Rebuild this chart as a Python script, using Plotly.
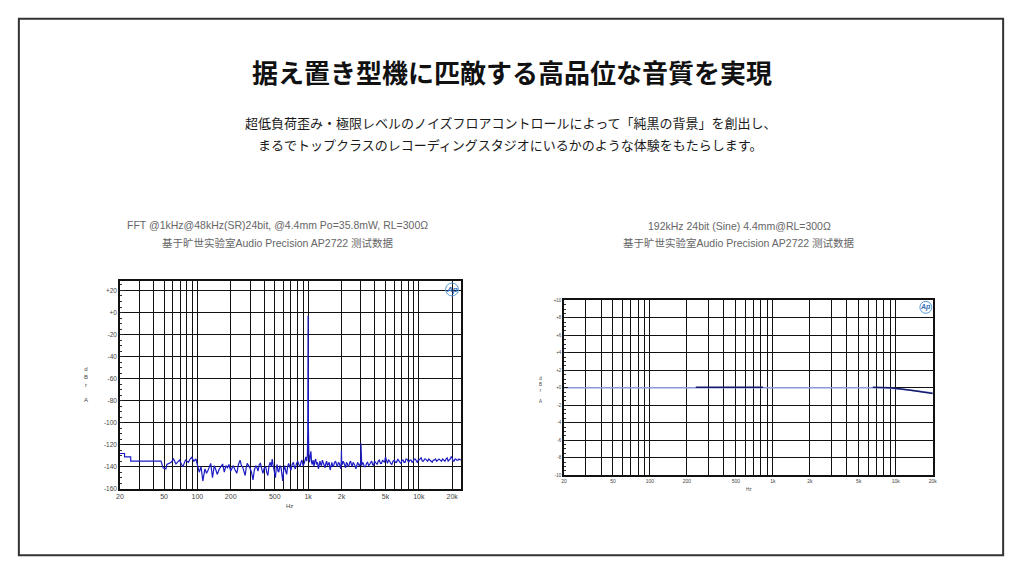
import math
import plotly.graph_objects as go

# ---------------- data ----------------
# Chart 1: FFT spectrum (Hz, dBrA)
fft_freq = [20, 22, 22, 25, 25, 47, 49, 52, 53, 55, 58, 61, 64, 66, 69, 72, 74, 78, 81, 83, 86, 89, 93, 97,
            101, 104, 108, 112, 117, 121, 124, 128, 132, 137, 142, 147, 151, 157, 163, 169, 175, 181, 187, 193,
            200, 205, 211, 219, 227, 235, 243, 250, 256, 263, 270, 276, 282, 290, 298, 308, 318, 327, 337, 345,
            353, 362, 371, 381, 391, 402, 414, 423, 433, 444, 455, 465, 474, 482, 490, 498, 507, 516, 525, 534,
            543, 556, 570, 580, 590, 602, 614, 627, 640, 653, 667, 683, 700, 718, 736, 751, 767, 786, 805, 825,
            845, 862, 880, 900, 922, 938, 955, 970, 985, 993, 997, 1000, 1003, 1007, 1015, 1030, 1045, 1060,
            1075, 1090, 1110, 1130, 1150, 1170, 1190, 1215, 1240, 1260, 1280, 1300, 1320, 1345, 1370, 1395,
            1420, 1445, 1470, 1495, 1520, 1550, 1580, 1610, 1640, 1670, 1700, 1735, 1770, 1805, 1840, 1875,
            1910, 1940, 1970, 1990, 2000, 2010, 2040, 2070, 2100, 2140, 2180, 2220, 2260, 2300, 2340, 2380,
            2420, 2460, 2500, 2550, 2600, 2650, 2700, 2750, 2800, 2850, 2900, 2960, 2990, 3000, 3010, 3050,
            3100, 3150, 3220, 3300, 3370, 3450, 3520, 3600, 3680, 3750, 3820, 3900, 3980, 4050, 4120, 4200,
            4300, 4400, 4500, 4600, 4700, 4800, 4900, 5000, 5100, 5200, 5320, 5450, 5570, 5700, 5850, 6000,
            6150, 6300, 6450, 6600, 6750, 6900, 7050, 7200, 7350, 7500, 7650, 7800, 7950, 8100, 8300, 8500,
            8700, 8900, 9100, 9300, 9500, 9700, 9850, 10000, 10250, 10500, 10750, 11000, 11250, 11500, 11750,
            12000, 12300, 12600, 12900, 13200, 13500, 13800, 14150, 14500, 14850, 15200, 15600, 16000, 16400,
            16800, 17200, 17600, 18000, 18400, 18800, 19200, 19600, 20000, 20400, 20800, 21200, 21500, 22000,
            22500, 23000, 23500, 24000]
fft_level = [-128, -128, -131, -131, -135, -135, -141, -142, -138, -137, -136, -133, -137.5, -136, -134, -138,
             -140, -134, -135, -136, -133, -131.5, -135, -133,
             -140, -145, -140, -153, -142, -146, -144, -140, -137, -150, -139, -143, -147, -142.5, -140, -137.5,
             -145, -139, -141, -138,
             -144, -142, -139, -143, -146, -138, -134, -139, -140, -144, -148, -141, -137, -139, -141, -145,
             -152, -143, -139, -141,
             -144, -138, -137, -142, -146, -141, -140, -145, -148, -139, -136, -140, -133, -138, -143, -147,
             -150, -141, -138, -144,
             -145, -139, -141, -147, -153, -143, -139, -144, -147, -140, -137, -140, -143, -138, -136, -140,
             -142, -137, -135, -138,
             -140, -136, -134, -139, -137, -134, -131, -135, -130, -106, -57, -3, -57, -106, -129, -136, -130,
             -126,
             -136, -138, -134, -140, -135, -133, -138, -136, -142, -137, -135, -138, -139, -134, -136, -139,
             -141, -137, -135, -139, -138, -136, -143, -138, -136, -140, -139, -136, -135, -138, -140, -136,
             -137, -139, -142, -137, -125, -137, -138, -135, -136, -139, -141, -136, -137, -140, -139, -136,
             -135, -138, -140, -136, -137, -139, -142, -138, -136, -138, -139, -137, -138, -119, -138, -139,
             -136, -137, -140, -140, -137, -136, -139, -138, -136, -135, -138, -139, -135, -136, -138, -138,
             -135, -134, -137, -137, -134, -135, -136, -131, -136, -137, -134, -135, -137, -138, -135, -134,
             -136, -136, -133, -135, -136, -137, -134, -134, -136, -136, -133, -133, -135, -136, -134, -134,
             -136, -135, -133, -133, -135, -136, -134, -134, -133, -132, -135, -135, -133, -133, -134,
             -135, -133, -134, -135, -136, -134, -134, -133, -135, -134, -133, -134, -135, -133,
             -134, -135, -133, -132, -135, -134, -133, -131, -132, -135, -135, -133, -133, -134,
             -134, -133, -134, -134]

# Chart 2: frequency response (Hz, dBrA)
fr_freq_light = [20, 200, 1000, 5000, 8000, 10000, 14000, 20000]
fr_level_light = [0, 0, 0, 0, 0, -0.1, -0.3, -0.6]
fr_freq_dark1 = [236, 400, 600, 832]
fr_level_dark1 = [0.06, 0.06, 0.06, 0.06]
fr_freq_dark2 = [6500, 9000, 12000, 16000, 20000]
fr_level_dark2 = [0.05, 0.0, -0.2, -0.42, -0.65]

grid_freqs1 = [20, 30, 40, 50, 60, 70, 80, 90, 100, 200, 300, 400, 500, 600, 700, 800, 900,
               1000, 2000, 3000, 4000, 5000, 6000, 7000, 8000, 9000, 10000, 20000]
freq_labels = {20: "20", 50: "50", 100: "100", 200: "200", 500: "500", 1000: "1k",
               2000: "2k", 5000: "5k", 10000: "10k", 20000: "20k"}
y1_ticks = [-160, -140, -120, -100, -80, -60, -40, -20, 0, 20]
y1_labels = ["-160", "-140", "-120", "-100", "-80", "-60", "-40", "-20", "+0", "+20"]
y2_ticks = [-10, -8, -6, -4, -2, 0, 2, 4, 6, 8, 10]
y2_labels = ["-10", "-8", "-6", "-4", "-2", "+0", "+2", "+4", "+6", "+8", "+10"]

title = "据え置き型機に匹敵する高品位な音質を実現"
subtitle1 = "超低負荷歪み・極限レベルのノイズフロアコントロールによって「純黒の背景」を創出し、"
subtitle2 = "まるでトップクラスのレコーディングスタジオにいるかのような体験をもたらします。"
chart1_title = ["FFT @1kHz@48kHz(SR)24bit, @4.4mm Po=35.8mW, RL=300Ω",
                "基于旷世实验室Audio Precision AP2722 测试数据"]
chart2_title = ["192kHz 24bit (Sine) 4.4mm@RL=300Ω",
                "基于旷世实验室Audio Precision AP2722 测试数据"]

# ---------------- layout helpers ----------------
W, H = 1024, 576
def px(x): return x / W
def py(y): return 1 - y / H

SANS = "Liberation Sans, Arial, Noto Sans CJK SC, sans-serif"
JP = "Noto Sans CJK JP, sans-serif"

fig = go.Figure()
fig.add_trace(go.Scatter(x=fft_freq, y=fft_level, mode="lines",
                         line=dict(color="#1c1cc4", width=1.2), xaxis="x", yaxis="y",
                         showlegend=False, hoverinfo="skip"))
fig.add_trace(go.Scatter(x=fr_freq_light, y=fr_level_light, mode="lines",
                         line=dict(color="#8e98d8", width=1.5), xaxis="x2", yaxis="y2",
                         showlegend=False, hoverinfo="skip"))
fig.add_trace(go.Scatter(x=fr_freq_dark1, y=fr_level_dark1, mode="lines",
                         line=dict(color="#141c6e", width=1.5), xaxis="x2", yaxis="y2",
                         showlegend=False, hoverinfo="skip"))
fig.add_trace(go.Scatter(x=fr_freq_dark2, y=fr_level_dark2, mode="lines",
                         line=dict(color="#141c6e", width=1.5), xaxis="x2", yaxis="y2",
                         showlegend=False, hoverinfo="skip"))

def xaxis_cfg(domain, fmax, fsize):
    grid = [f for f in grid_freqs1 if f <= fmax]
    return dict(domain=domain, type="log", range=[math.log10(20), math.log10(fmax)],
                tickvals=grid, ticktext=[freq_labels.get(f, "") for f in grid],
                showgrid=True, gridcolor="#111", gridwidth=1.2, showline=True, linecolor="#111",
                linewidth=1.5, mirror=True, ticks="", zeroline=False,
                tickfont=dict(family=SANS, size=fsize, color="#444"), fixedrange=True)

def yaxis_cfg(domain, rng, vals, labels, fsize, mdt):
    return dict(domain=domain, range=rng, tickvals=vals, ticktext=labels,
                showgrid=True, gridcolor="#111", gridwidth=1.2, showline=True, linecolor="#111",
                linewidth=1.5, mirror=True, ticks="inside", ticklen=4, tickcolor="#222",
                minor=dict(ticks="inside", ticklen=2, dtick=mdt, tickcolor="#333", showgrid=False),
                zeroline=False, tickfont=dict(family=SANS, size=fsize, color="#444"), fixedrange=True)

fig.update_layout(
    width=W, height=H, margin=dict(l=0, r=0, t=0, b=0),
    paper_bgcolor="white", plot_bgcolor="white",
    xaxis=dict(xaxis_cfg([px(117), px(461)], 24000, 7), anchor="y"),
    yaxis=dict(yaxis_cfg([py(491), py(281)], [-160, 29], y1_ticks, y1_labels, 6.5, 5), anchor="x"),
    xaxis2=dict(xaxis_cfg([px(565), px(937)], 20000, 5), anchor="y2"),
    yaxis2=dict(yaxis_cfg([py(477.3), py(301)], [-10, 10], y2_ticks, y2_labels, 4.5, 0.5), anchor="x2"),
)

ann = []
def text(x, y, s, size, color, family=SANS, xanchor="center"):
    ann.append(dict(x=px(x), y=py(y), xref="paper", yref="paper", text=s, showarrow=False,
                    xanchor=xanchor, yanchor="middle", font=dict(family=family, size=size, color=color)))

text(512, 70, "<b>" + title + "</b>", 26, "#111", JP)
text(511, 122, subtitle1, 13, "#1a1a1a", JP)
text(511, 144, subtitle2, 13, "#1a1a1a", JP)
text(276, 225, chart1_title[0], 10.5, "#666")
text(276, 243, chart1_title[1], 10.5, "#666")
text(742, 226, chart2_title[0], 10.5, "#666")
text(742, 243, chart2_title[1], 10.5, "#666")
text(83, 386, "d<br>B<br>r<br><br>A", 6, "#444")
text(541, 391, "d<br>B<br>r<br><br>A", 4.5, "#444")
text(288, 508, "Hz", 6, "#444")
text(752, 492, "Hz", 4.5, "#444")
text(452, 290, "<b><i>Ap</i></b>", 8, "#2f6fb8")
text(930, 308, "<b><i>Ap</i></b>", 7, "#2f6fb8")
fig.update_layout(annotations=ann)

shapes = [
    dict(type="rect", xref="paper", yref="paper", x0=px(15), x1=px(1008), y0=py(558), y1=py(17),
         line=dict(color="#333", width=2)),
    dict(type="circle", xref="paper", yref="paper", x0=px(445.5), x1=px(458.5), y0=py(296.5), y1=py(283.5),
         line=dict(color="#5a9ad6", width=1)),
    dict(type="circle", xref="paper", yref="paper", x0=px(924), x1=px(936), y0=py(314), y1=py(302),
         line=dict(color="#5a9ad6", width=1)),
]
fig.update_layout(shapes=shapes)

fig.write_html("out.html")
